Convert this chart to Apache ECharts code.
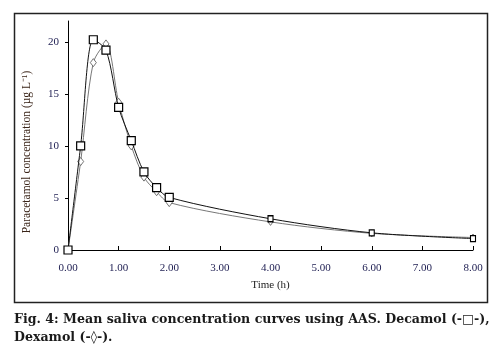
<!DOCTYPE html>
<html>
<head>
<meta charset="utf-8">
<script src="https://cdn.jsdelivr.net/npm/echarts@6/dist/echarts.min.js"></script>
<style>
  html, body { margin: 0; padding: 0; background: #fff; }
  #chart { width: 500px; height: 354px; }
</style>
</head>
<body>
<div id="chart"></div>
<script>
var times = [0, 0.25, 0.5, 0.75, 1, 1.25, 1.5, 1.75, 2, 4, 6, 8];
var decamol = [0, 10, 20.2, 19.2, 13.7, 10.5, 7.5, 6.0, 5.05, 3.0, 1.65, 1.1];
var dexamol = [0, 8.5, 18.0, 19.8, 14.2, 10.0, 7.0, 5.6, 4.55, 2.7, 1.6, 1.2];
var yTicks = [0, 5, 10, 15, 20];

function pairs(vals) {
    var list = [];
    for (var i = 0; i < times.length; i++) {
        list.push([times[i], vals[i]]);
    }
    return list;
}

var chart = echarts.init(document.getElementById('chart'));
var font = 'Liberation Serif';

var option = {
    animation: false,
    grid: { left: 68, right: 27, top: 21, bottom: 104 },
    xAxis: {
        type: 'value',
        min: 0, max: 8, interval: 1,
        name: 'Time (h)',
        nameLocation: 'middle',
        nameGap: 30,
        nameTextStyle: { fontFamily: font, fontSize: 11, color: '#222' },
        axisLine: { lineStyle: { color: '#000', width: 1 } },
        axisTick: { inside: true, length: 4, lineStyle: { color: '#000' } },
        axisLabel: {
            fontFamily: font, fontSize: 11, color: '#1c1c50', margin: 13,
            formatter: function (v) { return v.toFixed(2); }
        },
        splitLine: { show: false }
    },
    yAxis: {
        type: 'value',
        min: 0, max: 22,
        axisLine: { show: true, lineStyle: { color: '#000', width: 1 } },
        axisTick: { show: true, length: 3, customValues: yTicks, lineStyle: { color: '#000' } },
        axisLabel: { fontFamily: font, fontSize: 11, color: '#1c1c50', margin: 9, customValues: yTicks },
        splitLine: { show: false }
    },
    series: [
        {
            name: 'Dexamol',
            type: 'line',
            data: pairs(dexamol),
            smooth: 0.3,
            symbol: 'diamond',
            symbolSize: function (v) { return v[0] > 3 ? [5, 7] : [6, 8]; },
            lineStyle: { color: '#777', width: 1 },
            itemStyle: { color: '#fff', borderColor: '#555', borderWidth: 0.8 },
            z: 2
        },
        {
            name: 'Decamol',
            type: 'line',
            data: pairs(decamol),
            smooth: 0.3,
            symbol: 'rect',
            symbolSize: function (v) { return v[0] > 3 ? [5, 6] : 8; },
            lineStyle: { color: '#111', width: 1 },
            itemStyle: { color: '#fff', borderColor: '#000', borderWidth: 1.2 },
            z: 3
        }
    ],
    graphic: [
        {
            type: 'rect',
            shape: { x: 14.5, y: 13.5, width: 473, height: 289 },
            style: { fill: null, stroke: '#222', lineWidth: 1.5 },
            silent: true
        },
        {
            type: 'text',
            x: 27, y: 152,
            rotation: Math.PI / 2,
            style: {
                text: 'Paracetamol concentration (µg L⁻¹)',
                font: '11.5px "Liberation Serif"',
                fill: '#3a2418',
                align: 'center',
                verticalAlign: 'middle'
            },
            silent: true
        },
        {
            type: 'text',
            left: 14, top: 311,
            style: {
                text: 'Fig. 4: Mean saliva concentration curves using AAS. Decamol (-□-),\nDexamol (-◊-).',
                font: 'bold 12.6px "DejaVu Serif"',
                fill: '#1a1a1a',
                lineHeight: 18
            }
        }
    ]
};

chart.setOption(option);
</script>
</body>
</html>
